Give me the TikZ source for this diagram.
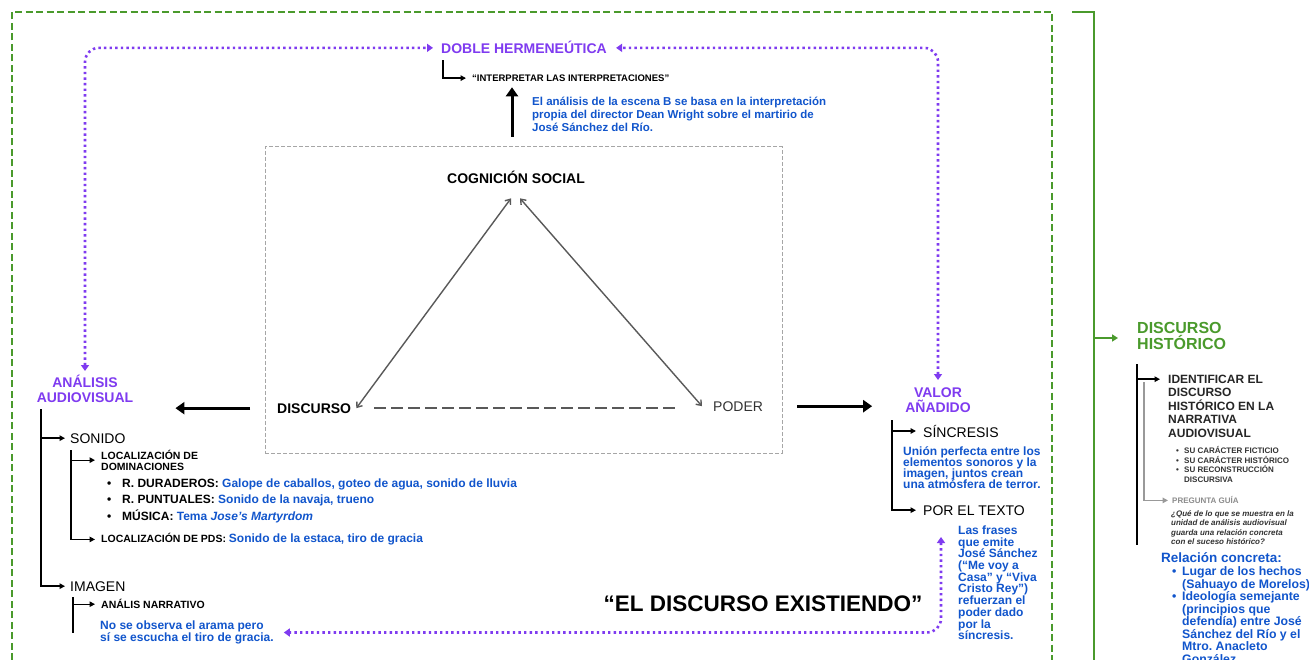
\documentclass[tikz,border=0pt]{standalone}
\usepackage{fontspec}
\setmainfont{Liberation Sans}
\usetikzlibrary{arrows.meta, positioning}
\definecolor{gblue}{HTML}{1155CC}
\definecolor{gpurple}{HTML}{7F3BF0}
\definecolor{ggreen}{HTML}{4A9A2C}
\setlength{\lineskiplimit}{-20pt}
\frenchspacing

\begin{document}
\begin{tikzpicture}[x=1pt, y=-1pt, >={Triangle[length=5.5pt,width=5.5pt]}, inner sep=0pt]
    \tikzstyle{purplehead}=[font=\fontsize{14}{14.5}\selectfont\bfseries, text=gpurple, align=center]
    \tikzstyle{branch}=[font=\fontsize{14}{14}\selectfont]
    \tikzstyle{branchbold}=[font=\fontsize{14}{14}\selectfont\bfseries]
    \tikzstyle{smallhead}=[font=\fontsize{10.5}{10.5}\selectfont\bfseries, align=left]
    \tikzstyle{bluenote}=[font=\fontsize{12}{12}\selectfont\bfseries, text=gblue, align=left]
    \tikzstyle{tinynote}=[font=\fontsize{8}{9.6}\selectfont\bfseries, text=black!80, align=left]
    \tikzstyle{treearrow}=[->, line width=1.5pt, shorten >=5pt]
    \tikzstyle{bigarrow}=[-{Triangle[length=9pt,width=12pt]}, line width=3pt]
    \tikzstyle{purplelink}=[{Triangle[length=6pt,width=8pt]}-{Triangle[length=6pt,width=8pt]}, draw=gpurple, line width=2.6pt, dash pattern=on 2.4pt off 3.2pt, rounded corners=14pt]
    \tikzstyle{triarrow}=[{Straight Barb[length=4.5pt,width=7pt]}-{Straight Barb[length=4.5pt,width=7pt]}, draw=black!65, line width=1.4pt]
    \tikzstyle{boxframe}=[draw=black!35, dash pattern=on 4pt off 2pt, line width=1pt]

    \fill[white] (0,0) rectangle (1309,660);
    \useasboundingbox (0,0) rectangle (1309,660);

    % Draw the green frames
    \draw[ggreen, line width=2.5pt, dash pattern=on 7pt off 3.5pt] (12,660) -- (12,12) -- (1052,12) -- (1052,660);
    \draw[ggreen, line width=2pt] (1072,12) -- (1094,12) -- (1094,660);

    % Draw the top of the map
    \node[purplehead, anchor=base west] (doble) at (441,54) {DOBLE HERMENEÚTICA};
    \node[font=\fontsize{9.5}{9.5}\selectfont\bfseries, anchor=base west] (interp) at (472,81.4) {“INTERPRETAR LAS INTERPRETACIONES”};
    \node[bluenote, font=\fontsize{11.5}{13}\selectfont\bfseries, anchor=north west] (escena) at (532,97)
        {El análisis de la escena B se basa en la interpretación\\propia del director Dean Wright sobre el martirio de\\José Sánchez del Río.};
    \draw[treearrow, line width=1.3pt, shorten >=6pt] ([xshift=2pt,yshift=-6pt]doble.south west) |- (interp.west);
    \coordinate (upBase) at (512,137);
    \draw[bigarrow, shorten >=5.6pt] (upBase) -- (upBase |- interp.south);

    % Draw the triangle in its dashed box
    \node[boxframe, minimum width=517pt, minimum height=306pt] (box) at (523.5,300) {};
    \node[branchbold, anchor=base] (cog) at (516,184) {COGNICIÓN SOCIAL};
    \node[branchbold, anchor=base west] (disc) at (277,413) {DISCURSO};
    \node[branch, text=black!80, anchor=base west] (poder) at (713,411) {PODER};
    \draw[triarrow] ([xshift=-5pt,yshift=-14pt]cog.south) -- ([xshift=5pt]disc.east);
    \draw[triarrow] ([xshift=4pt,yshift=-14pt]cog.south) -- ([xshift=-11pt]poder.west);
    \draw[draw=black!65, line width=1.5pt, dash pattern=on 12pt off 5pt, shorten <=23pt, shorten >=36pt] (disc.east) -- (disc.east -| poder.west);

    % Draw the two sides
    \node[purplehead, anchor=north] (analisis) at (85,375) {ANÁLISIS\\AUDIOVISUAL};
    \node[purplehead, anchor=north] (valor) at (938,388) {VALOR\\AÑADIDO};
    \draw[bigarrow, shorten <=27pt, shorten >=42pt] (disc.west) -- (disc.west -| analisis.east);
    \draw[bigarrow, shorten <=34pt, shorten >=33pt] (poder.east) -- (poder.east -| valor.west);

    % Connect the purple links
    \draw[purplelink, shorten <=4pt, shorten >=8pt] (analisis.north) |- (doble.west);
    \draw[purplelink, shorten <=8pt, shorten >=9pt] (valor.north) |- (doble.east);

    % Analisis audiovisual: sonido
    \node[branch, anchor=base west] (sonido) at (70,443) {SONIDO};
    \node[smallhead, anchor=north west] (locDom) at (101,450) {LOCALIZACIÓN DE\\DOMINACIONES};
    \foreach \y/\lab/\txt [count=\i] in {487.3/R. DURADEROS:/{Galope de caballos, goteo de agua, sonido de lluvia},
                                         503.3/R. PUNTUALES:/{Sonido de la navaja, trueno},
                                         520.3/MÚSICA:/{Tema \textit{Jose’s Martyrdom}}} {
        \node[font=\fontsize{12}{12}\selectfont\bfseries, anchor=base west] (sonDot-\i) at (107,\y) {\textbullet};
        \node[font=\fontsize{12}{12}\selectfont\bfseries, anchor=base west] (sonItem-\i) at (122,\y) {\lab{} \textcolor{gblue}{\txt}};
    }
    \node[smallhead, anchor=base west] (locPds) at (101,542.8)
        {LOCALIZACIÓN DE PDS: {\fontsize{12}{12}\selectfont\color{gblue}Sonido de la estaca, tiro de gracia}};

    % Analisis audiovisual: imagen
    \node[branch, anchor=base west] (imagen) at (70,591) {IMAGEN};
    \node[smallhead, anchor=base west] (anNarr) at (101,608.8) {ANÁLIS NARRATIVO};
    \node[bluenote, anchor=north west] (noObs) at (100,620.7) {No se observa el arama pero\\sí se escucha el tiro de gracia.};

    % Tree lines on the left
    \coordinate (aTop) at (41,409);
    \draw[treearrow] (aTop) |- (sonido.west);
    \draw[treearrow] (aTop) |- (imagen.west);
    \coordinate (sTop) at (71,450);
    \draw[treearrow, line width=1.2pt, shorten >=6pt] (sTop) |- (locDom.west);
    \draw[treearrow, line width=1.2pt, shorten >=6pt] (sTop) |- (locPds.west);
    \coordinate (iTop) at (73,597);
    \draw[treearrow, line width=1.2pt, shorten >=6pt] (iTop) |- (anNarr.west);
    \draw[line width=1.2pt] (iTop) -- (iTop |- noObs.west);

    % Valor anadido
    \node[branch, anchor=base west] (sinc) at (923,437) {SÍNCRESIS};
    \node[bluenote, font=\fontsize{12}{11}\selectfont\bfseries, anchor=north west] (sincText) at (903,446.5)
        {Unión perfecta entre los\\elementos sonoros y la\\imagen, juntos crean\\una atmósfera de terror.};
    \node[branch, anchor=base west] (porTexto) at (923,515) {POR EL TEXTO};
    \node[bluenote, font=\fontsize{12}{11.7}\selectfont\bfseries, anchor=north west] (ptText) at (958,525.5)
        {Las frases\\que emite\\José Sánchez\\(“Me voy a\\Casa” y “Viva\\Cristo Rey”)\\refuerzan el\\poder dado\\por la\\síncresis.};
    \coordinate (vTop) at (892,420);
    \draw[treearrow, shorten >=7pt] (vTop) |- (sinc.west);
    \draw[treearrow, shorten >=7pt] (vTop) |- (porTexto.west);

    % The bottom link and the central phrase
    \node[font=\fontsize{22.5}{22.5}\selectfont\bfseries, anchor=base] (existe) at (763,611) {“EL DISCURSO EXISTIENDO”};
    \coordinate (ptTip) at (941,537);
    \draw[purplelink, shorten >=10pt] (ptTip) |- (noObs.east);

    % Discurso historico column
    \node[font=\fontsize{16}{16}\selectfont\bfseries, text=ggreen, align=left, anchor=north west] (histTitle) at (1137,322.3) {DISCURSO\\HISTÓRICO};
    \coordinate (gArm) at (1094,338);
    \draw[-{Triangle[length=6pt,width=7pt]}, ggreen, line width=2pt, shorten >=19pt] (gArm) -- (gArm -| histTitle.west);

    \node[font=\fontsize{12}{13.5}\selectfont\bfseries, text=black!85, align=left, anchor=north west] (ident) at (1168,374.7)
        {IDENTIFICAR EL\\DISCURSO\\HISTÓRICO EN LA\\NARRATIVA\\AUDIOVISUAL};
    \foreach \y/\txt [count=\i] in {453.9/SU CARÁCTER FICTICIO, 463.4/SU CARÁCTER HISTÓRICO} {
        \node[tinynote, anchor=base west] (suDot-\i) at (1176,\y) {\textbullet};
        \node[tinynote, anchor=base west] (suItem-\i) at (1184,\y) {\txt};
    }
    \node[tinynote, anchor=base west] (suDot-3) at (1176,472.9) {\textbullet};
    \node[tinynote, anchor=north west] (suItem-3) at (1184,465.5) {SU RECONSTRUCCIÓN\\DISCURSIVA};

    \node[tinynote, text=black!45, anchor=base west] (pregunta) at (1172,503.9) {PREGUNTA GUÍA};
    \node[tinynote, font=\fontsize{8}{9.6}\selectfont\bfseries\itshape, anchor=north west] (question) at (1171,510)
        {¿Qué de lo que se muestra en la\\unidad de análisis audiovisual\\guarda una relación concreta\\con el suceso histórico?};

    \coordinate (rTop) at (1137,364);
    \draw[line width=2.5pt] (rTop) -- (rTop |- question.south);
    \draw[treearrow, line width=1.8pt, shorten >=8pt] (rTop) |- ([yshift=-4.5pt]ident.north west);
    \coordinate (gqTop) at (1144,382);
    \draw[->, draw=black!40, line width=1.2pt, shorten >=4pt] (gqTop) |- (pregunta.west);

    \node[bluenote, font=\fontsize{13.5}{13.5}\selectfont\bfseries, anchor=base west] (relacion) at (1161,562.9) {Relación concreta:};
    \node[bluenote, font=\fontsize{12.3}{12.5}\selectfont\bfseries, anchor=base west] (lugarDot) at (1172,575.4) {\textbullet};
    \node[bluenote, font=\fontsize{12.3}{12.5}\selectfont\bfseries, anchor=north west] (lugar) at (1182,566.4)
        {Lugar de los hechos\\(Sahuayo de Morelos)};
    \node[bluenote, font=\fontsize{12.3}{12.5}\selectfont\bfseries, anchor=base west] (ideoDot) at (1172,600.4) {\textbullet};
    \node[bluenote, font=\fontsize{12.3}{12.5}\selectfont\bfseries, anchor=north west] (ideo) at (1182,591.4)
        {Ideología semejante\\(principios que\\defendía) entre José\\Sánchez del Río y el\\Mtro. Anacleto\\González.};
\end{tikzpicture}
\end{document}
